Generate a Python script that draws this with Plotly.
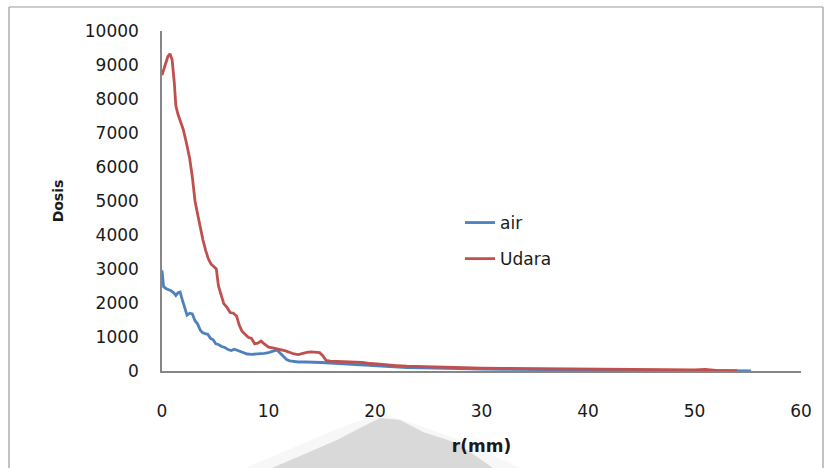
import plotly.graph_objects as go

# Radial dose profiles: r in mm, dose in arbitrary units
r_air = [0, 0.15, 0.4, 0.8, 1.1, 1.3, 1.5, 1.7, 1.9, 2.1, 2.35, 2.6, 2.85, 3.1, 3.35,
         3.6, 3.8, 4.05, 4.3, 4.55, 4.8, 5.05, 5.3, 5.6, 5.9, 6.2, 6.5, 6.8, 7.1, 7.4,
         7.7, 8.0, 8.4, 8.8, 9.2, 9.6, 10.0, 10.4, 10.8, 11.1, 11.4, 11.7, 12.0, 12.4,
         12.8, 13.5, 14.2, 15.0, 15.8, 16.6, 17.4, 18.2, 19.0, 20.0, 21.0, 22.0, 23.0,
         24.5, 26, 28, 30, 32, 34, 36, 38, 40, 42, 44, 46, 48, 50, 52, 54, 55.3]
dose_air = [2960, 2480, 2420, 2370, 2300, 2220, 2300, 2320, 2100, 1900, 1640, 1700, 1680,
            1480, 1380, 1200, 1130, 1100, 1080, 960, 920, 800, 780, 720, 690, 630, 600,
            640, 610, 560, 540, 500, 490, 500, 490, 520, 540, 570, 620, 520, 420, 340,
            300, 280, 265, 265, 265, 250, 230, 215, 195, 175, 160, 148, 125, 110, 100,
            90, 75, 65, 55, 50, 45, 40, 30, 25, 20, 15, 12, 10, 8, 6, 5, 3]

r_udara = [0, 0.3, 0.55, 0.75, 0.95, 1.15, 1.3, 1.5, 1.75, 2.0, 2.3, 2.6, 2.85, 3.1, 3.35,
           3.6, 3.85, 4.1, 4.35, 4.6, 4.85, 5.1, 5.3, 5.55, 5.8, 6.1, 6.4, 6.7, 7.0, 7.25,
           7.5, 7.8, 8.1, 8.4, 8.7, 9.0, 9.3, 9.6, 10.0, 10.4, 10.8, 11.2, 11.6, 12.0,
           12.4, 12.8, 13.2, 13.6, 14.0, 14.4, 14.8, 15.1, 15.4, 15.8, 16.5, 17.2, 18.0,
           18.8, 19.6, 20.4, 21.2, 22.0, 23.0, 24.5, 26, 28, 30, 32, 34, 36, 38, 40, 42,
           44, 46, 48, 50, 51, 52, 54]
dose_udara = [8700, 9000, 9250, 9330, 9150, 8500, 7800, 7550, 7350, 7100, 6700, 6250, 5700,
              5000, 4600, 4200, 3850, 3550, 3300, 3150, 3080, 3000, 2500, 2200, 1980, 1870,
              1720, 1700, 1620, 1350, 1180, 1080, 990, 960, 800, 820, 880, 800, 700, 680,
              640, 620, 590, 540, 500, 480, 520, 550, 560, 560, 540, 450, 310, 290, 280,
              275, 265, 250, 220, 195, 175, 160, 140, 125, 110, 95, 85, 75, 70, 60, 55, 50,
              45, 30, 25, 20, 35, 45, 20, 10]

x_ticks = [0, 10, 20, 30, 40, 50, 60]
y_ticks = [0, 1000, 2000, 3000, 4000, 5000, 6000, 7000, 8000, 9000, 10000]

W, H = 831, 468
L, R, T, B = 162, 30, 31, 97
pw, ph = W - L - R, H - T - B


def px(xp):
    return (xp - L) / pw


def py(yp):
    return (H - B - yp) / ph


font_main = "DejaVu Sans"

fig = go.Figure()
fig.add_trace(go.Scatter(x=r_air, y=dose_air, mode="lines", name="air",
                         legendgroup="a",
                         line=dict(color="#4F81BD", width=2.8)))
fig.add_trace(go.Scatter(x=r_udara, y=dose_udara, mode="lines", name="Udara",
                         legendgroup="b",
                         line=dict(color="#C0504D", width=2.8)))

# faint grey stepped mark under the x-axis title
halo = [(380, 413), (415, 424), (460, 440), (520, 468), (245, 468), (330, 432)]
peak = [(380, 418), (400, 420), (423, 432), (457, 443), (493, 468),
        (272, 468), (300, 456), (337, 440), (360, 428)]
for pts, col in ((halo, "#f7f7f7"), (peak, "#d9d9d9")):
    path = "M " + " L ".join(f"{px(a):.4f},{py(b):.4f}" for a, b in pts) + " Z"
    fig.add_shape(type="path", path=path, xref="paper", yref="paper",
                  fillcolor=col, line=dict(width=0), layer="below")

# chart frame
for x0, y0, x1, y1 in ((9, 7, 823, 7), (9, 7, 9, 470), (823, 7, 823, 470)):
    fig.add_shape(type="line", xref="paper", yref="paper",
                  x0=px(x0), y0=py(y0), x1=px(x1), y1=py(y1),
                  line=dict(color="#9a9a9a", width=1.2))

fig.update_layout(
    width=W, height=H,
    margin=dict(l=L, r=R, t=T, b=B, autoexpand=False),
    paper_bgcolor="white", plot_bgcolor="white",
    font=dict(family=font_main, color="#1a1a1a", size=17),
    showlegend=True,
    legend=dict(x=px(460), y=py(205), xanchor="left", yanchor="top",
                bgcolor="rgba(0,0,0,0)", font=dict(size=17, family=font_main),
                traceorder="grouped", tracegroupgap=11),
    xaxis=dict(range=[0, 60], tickvals=x_ticks, ticktext=[str(v) for v in x_ticks],
               showgrid=False, zeroline=False, showline=True,
               linecolor="#868686", linewidth=1.5, ticks="",
               ticklabelstandoff=24,
               title=dict(text="<b>r(mm)</b>", font=dict(size=17), standoff=20)),
    yaxis=dict(range=[0, 10000], tickvals=y_ticks, ticktext=[str(v) for v in y_ticks],
               showgrid=False, zeroline=False, showline=True,
               linecolor="#868686", linewidth=1.5, ticks="",
               ticklabelstandoff=18,
               title=dict(text="<b>Dosis</b>", font=dict(size=14), standoff=18)),
)

fig.write_html("out.html")
